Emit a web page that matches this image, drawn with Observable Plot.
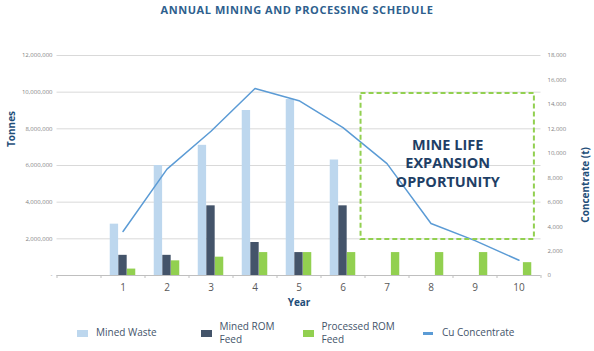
<!DOCTYPE html>
<html>
<head>
<meta charset="utf-8">
<script src="https://cdn.jsdelivr.net/npm/d3@7"></script>
<script src="https://cdn.jsdelivr.net/npm/@observablehq/plot@0.6"></script>
<style>
  html, body { margin: 0; padding: 0; background: #fff; }
  #page { position: relative; width: 594px; height: 351px; overflow: hidden; font-family: "Open Sans", sans-serif; }
  #title { position: absolute; left: 0; top: 0; width: 594px; height: 20px; line-height: 20px; text-align: center;
           font-size: 11px; font-weight: 700; letter-spacing: 0.55px; color: #2e5f8e; }
  #chart { position: absolute; left: 0; top: 20px; }
  #legend { position: absolute; left: 0; top: 319px; width: 594px; height: 28px; font-size: 10px; color: #44546a; }
  .item { position: absolute; top: 0; height: 28px; display: flex; align-items: center; }
  .sw { width: 11px; height: 7px; margin-right: 8px; }
  .ln { width: 10px; height: 3px; margin-right: 9px; }
  .lab { line-height: 13.5px; }
</style>
</head>
<body>
<div id="page">
  <div id="title"></div>
  <div id="chart"></div>
  <div id="legend"></div>
</div>
<script>
// ---- data ----
const title = "ANNUAL MINING AND PROCESSING SCHEDULE";
const years = [1, 2, 3, 4, 5, 6, 7, 8, 9, 10];
const minedWaste   = [2800000, 6000000, 7100000, 9000000, 9600000, 6300000, 0, 0, 0, 0];
const minedROMFeed = [1100000, 1100000, 3800000, 1800000, 1250000, 3800000, 0, 0, 0, 0];
const processedROM = [350000, 800000, 1000000, 1250000, 1250000, 1250000, 1250000, 1250000, 1250000, 700000];
const cuConcentrate = [3600, 8700, 11800, 15300, 14300, 12100, 9150, 4250, 2850, 1250];
const seriesNames = ["Mined Waste", "Mined ROM Feed", "Processed ROM Feed", "Cu Concentrate"];
const legendLabels = ["Mined Waste", "Mined ROM<br>Feed", "Processed ROM<br>Feed", "Cu Concentrate"];
const seriesColors = ["#bdd7ee", "#44546a", "#92d050", "#5b9bd5"];
const tonnesTicks = [0, 2000000, 4000000, 6000000, 8000000, 10000000, 12000000];
const concTicks = [0, 2000, 4000, 6000, 8000, 10000, 12000, 14000, 16000, 18000];
const boxText = "MINE LIFE\nEXPANSION\nOPPORTUNITY";
const boxRange = {fromYear: 6.41, toYear: 10.35, concTop: 14900, concBottom: 2950};

// ---- derived ----
const tonnesMax = 12000000, concMax = 18000;
const k = tonnesMax / concMax; // concentrate -> tonnes-axis units
const barSeries = [minedWaste, minedROMFeed, processedROM];
const rows = barSeries.flatMap((vals, si) =>
  years.map((yr, i) => ({year: yr, idx: si, series: seriesNames[si], value: vals[i]})))
  .filter(d => d.value > 0);
const linePts = years.map((yr, i) => ({year: yr, v: cuConcentrate[i] * k}));
const bounds = d3.range(-0.5, 11, 1);
const fmt = d3.format(",");
const step = 0.195, half = 0.095;

document.getElementById("title").textContent = title;

const chart = Plot.plot({
  width: 594,
  height: 300,
  marginTop: 35,
  marginBottom: 45,
  marginLeft: 56.5,
  marginRight: 53.5,
  style: {fontFamily: "'Open Sans', sans-serif", background: "transparent"},
  x: {type: "linear", domain: [-0.5, 10.5]},
  y: {domain: [0, tonnesMax]},
  color: {domain: seriesNames, range: seriesColors},
  marks: [
    Plot.gridY(tonnesTicks.filter(d => d > 0), {stroke: "#d9d9d9", strokeOpacity: 1}),
    Plot.ruleY([0], {stroke: "#bfbfbf"}),
    Plot.axisX(bounds, {tickSize: 3, tickFormat: () => "", stroke: "#bfbfbf", label: null}),
    Plot.axisX(years, {tickSize: 0, tickPadding: 8, fontSize: 10, fill: "#595959", label: null}),
    Plot.axisY(tonnesTicks, {anchor: "left", tickSize: 0, tickPadding: 4.5, fontSize: 6, fill: "#7f7f7f",
      tickFormat: d => d === 0 ? "-" : fmt(d), label: null}),
    Plot.axisY(concTicks.map(c => c * k), {anchor: "right", tickSize: 0, tickPadding: 6.5, fontSize: 6, fill: "#7f7f7f",
      tickFormat: d => fmt(Math.round(d / k)), label: null}),
    Plot.rectY(rows, {
      x1: d => d.year + (d.idx - 1) * step - half,
      x2: d => d.year + (d.idx - 1) * step + half,
      y1: 0, y2: "value", fill: "series"
    }),
    Plot.line(linePts, {x: "year", y: "v", stroke: seriesColors[3], strokeWidth: 1.5}),
    Plot.rect([boxRange], {
      x1: "fromYear", x2: "toYear",
      y1: d => d.concBottom * k, y2: d => d.concTop * k,
      fill: "none", stroke: "#92d050", strokeWidth: 2, strokeDasharray: "5,3"
    }),
    Plot.text([boxRange], {
      x: d => (d.fromYear + d.toYear) / 2,
      y: d => (d.concBottom + d.concTop) / 2 * k,
      text: () => boxText, dy: -4,
      fontSize: 14.5, fontWeight: 700, fill: "#1f3f66", lineHeight: 1.3, textAnchor: "middle"
    }),
    Plot.text(["Tonnes"], {frameAnchor: "left", dx: -45.5, dy: -18.5, rotate: -90,
      fontSize: 10, fontWeight: 700, fill: "#1f4e79"}),
    Plot.text(["Concentrate (t)"], {frameAnchor: "right", dx: 44.5, dy: -18.5, rotate: -90,
      fontSize: 10, fontWeight: 700, fill: "#1f4e79"}),
    Plot.text(["Year"], {frameAnchor: "bottom", dy: 30, fontSize: 10, fontWeight: 700, fill: "#1f4e79"})
  ]
});
document.getElementById("chart").appendChild(chart);

// ---- legend ----
const legendLeft = [77, 200.5, 302.5, 423];
const legend = document.getElementById("legend");
seriesNames.forEach((name, i) => {
  const item = document.createElement("div");
  item.className = "item";
  item.style.left = legendLeft[i] + "px";
  const sw = document.createElement("div");
  sw.className = i === 3 ? "ln" : "sw";
  sw.style.background = seriesColors[i];
  const lab = document.createElement("div");
  lab.className = "lab";
  lab.innerHTML = legendLabels[i];
  item.appendChild(sw);
  item.appendChild(lab);
  legend.appendChild(item);
});
</script>
</body>
</html>
